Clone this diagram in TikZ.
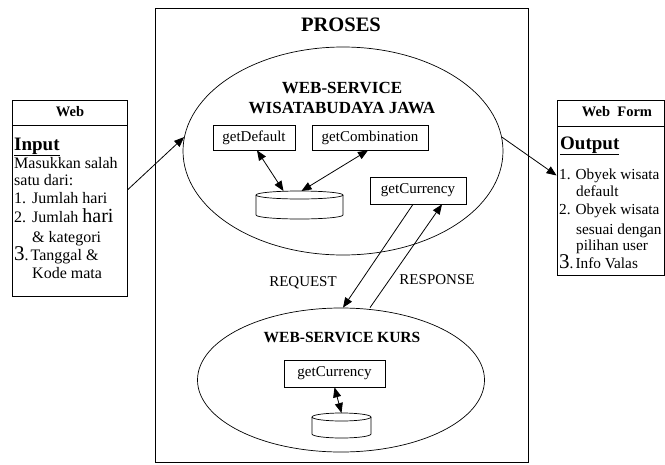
\documentclass[tikz,border=0pt]{standalone}
\usepackage{fontspec}
\setmainfont{Liberation Serif}
\usetikzlibrary{shapes.geometric,arrows.meta,calc}
\begin{document}
\begin{tikzpicture}[x=1pt,y=-1pt,
  frame/.style={draw,line width=0.8pt},
  fbox/.style={draw,line width=0.7pt,inner sep=0pt,font=\fontsize{15}{18}\selectfont},
  wsell/.style={draw,ellipse,line width=0.7pt,inner sep=0pt},
  arr/.style={line width=0.8pt,-{Triangle[length=10pt,width=8pt]}},
  darr/.style={line width=0.8pt,{Triangle[length=10pt,width=8pt]}-{Triangle[length=10pt,width=8pt]}},
  txt/.style={inner sep=0pt,font=\fontsize{16}{18}\selectfont,anchor=base west},
  rtxt/.style={inner sep=0pt,font=\fontsize{15.3}{18}\selectfont,anchor=base west},
  head/.style={inner sep=0pt,font=\bfseries\fontsize{14.5}{16}\selectfont},
  lbl/.style={inner sep=0pt,font=\fontsize{15}{18}\selectfont}
]
\useasboundingbox (0,0) rectangle (665,464);
% main process frame
\node[frame,minimum width=373pt,minimum height=454pt,inner sep=0pt] (proses) at (341.5,235) {};
\node[inner sep=0pt,font=\bfseries\fontsize{20.5}{22}\selectfont] (prosesT) at (341,25) {PROSES};

% left web box
\node[frame,minimum width=115pt,minimum height=196pt,inner sep=0pt] (inbox) at (69.5,198) {};
\draw[frame] (12,125) -- (127,125);
\node[head] (webT) at (70,112) {Web};
\node[inner sep=0pt,anchor=base west,font=\bfseries\fontsize{19}{22}\selectfont] (inT) at (14,150) {\underline{Input}};
\node[txt] (l1) at (14,168) {Masukkan salah};
\node[txt] (l2) at (14,185) {satu dari:};
\node[txt] (l3) at (14,203) {1.\hspace{6pt}Jumlah hari};
\node[txt] (l4) at (14,222) {2.\hspace{6pt}Jumlah {\fontsize{20}{22}\selectfont hari}};
\node[txt] (l5) at (32,242) {\& kategori};
\node[txt] (l6) at (14,260) {{\fontsize{21}{22}\selectfont 3}.\hspace{2pt}Tanggal \&};
\node[txt] (l7) at (32,278) {Kode mata};

% right web form box
\node[frame,minimum width=107pt,minimum height=175pt,inner sep=0pt] (outbox) at (610.5,187.5) {};
\draw[frame] (557,126) -- (664,126);
\node[head] (wfT) at (617,112) {Web\ \ Form};
\node[inner sep=0pt,anchor=base west,font=\bfseries\fontsize{19}{22}\selectfont] (outT) at (560,149) {\underline{Output}};
\node[rtxt] (r1) at (559,179) {1.\hspace{5pt}Obyek wisata};
\node[rtxt] (r2) at (576,196) {default};
\node[rtxt] (r3) at (559,214) {2.\hspace{5pt}Obyek wisata};
\node[rtxt] (r4) at (576,234) {sesuai dengan};
\node[rtxt] (r5) at (576,250) {pilihan user};
\node[rtxt] (r6) at (559,268) {{\fontsize{21}{22}\selectfont 3}.\hspace{2pt}Info Valas};

% upper web service
\node[wsell,minimum width=320pt,minimum height=208pt] (ws) at (343,151) {};
\node[inner sep=0pt,align=center,font=\bfseries\fontsize{17}{20}\selectfont] (wsT) at (342,98) {WEB-SERVICE\\WISATABUDAYA JAWA};
\node[fbox,minimum width=82pt,minimum height=25pt] (gd) at (254,137.5) {getDefault};
\node[fbox,minimum width=116pt,minimum height=25pt] (gc) at (370,137.5) {getCombination};
\node[fbox,minimum width=96pt,minimum height=27pt] (cur1) at (418,190.5) {getCurrency};
% database 1
\draw[line width=0.7pt] (256,195) -- (256,215) arc[start angle=180,end angle=360,x radius=43.5pt,y radius=4pt] -- (343,195);
\draw[line width=0.7pt] (299.5,195) ellipse[x radius=43.5pt,y radius=4pt];
\coordinate (db1) at (299.5,191);

% lower web service
\node[wsell,minimum width=287pt,minimum height=144pt] (kurs) at (341,380) {};
\node[inner sep=0pt,font=\bfseries\fontsize{15.5}{18}\selectfont] (kursT) at (342,337) {WEB-SERVICE KURS};
\node[fbox,minimum width=101pt,minimum height=27pt] (cur2) at (334.5,373.5) {getCurrency};
% database 2
\draw[line width=0.7pt] (312,417) -- (312,434) arc[start angle=180,end angle=360,x radius=29.5pt,y radius=4pt] -- (371,417);
\draw[line width=0.7pt] (341.5,417) ellipse[x radius=29.5pt,y radius=4pt];
\coordinate (db2) at (341.5,413);

% connectors
\draw[arr] ($(inbox.east)+(0,-8)$) -- (ws.175);
\draw[arr] (ws.5) -- ($(outbox.west)+(0,-12)$);
\draw[darr] ($(gd.south)+(3,0)$) -- ($(db1)+(-16,0)$);
\draw[darr] ($(gc.south)+(-2,0)$) -- ($(db1)+(2,0)$);
\draw[darr] (cur2.south) -- (db2);
\draw[arr] ($(cur1.south)+(-5,0)$) -- ($(kurs.north)+(2,0)$);
\draw[arr] ($(kurs.north)+(29,0)$) -- ($(cur1.south)+(24,0)$);
\node[lbl] (req) at (303,283) {REQUEST};
\node[lbl] (resp) at (437,280) {RESPONSE};
\end{tikzpicture}
\end{document}
